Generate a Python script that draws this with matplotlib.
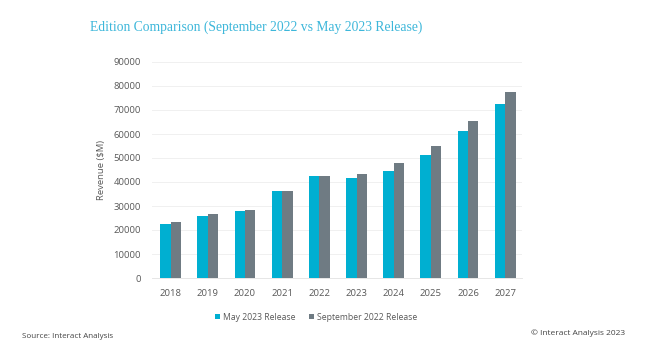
import matplotlib
matplotlib.use("Agg")
from matplotlib import pyplot as plt
import numpy as np

# Revenue ($M) by year, two report editions
years = ['2018', '2019', '2020', '2021', '2022', '2023', '2024', '2025', '2026', '2027']
may_2023 = [22700, 26000, 28000, 36400, 42300, 41800, 44500, 51400, 61100, 72600]
sep_2022 = [23200, 26500, 28500, 36100, 42600, 43500, 47800, 55200, 65400, 77300]
yticks = list(range(0, 90001, 10000))

blue = '#00AFD1'
grey = '#6F7B83'
text_grey = '#595959'

plt.rcParams['font.family'] = ['Open Sans', 'DejaVu Sans']

fig = plt.figure(figsize=(6.45, 3.5), dpi=100)
ax = fig.add_axes([152 / 645, 1 - 278 / 350, 370 / 645, 216 / 350])

x = np.arange(len(years))
w = 0.28
ax.bar(x - w / 2, may_2023, w, color=blue, label='May 2023 Release', zorder=3)
ax.bar(x + w / 2, sep_2022, w, color=grey, label='September 2022 Release', zorder=3)

ax.set_xlim(-0.5, 9.45)
ax.set_ylim(0, 90000)
ax.set_yticks(yticks)
ax.set_yticklabels([str(v) for v in yticks])
ax.set_xticks(x)
ax.set_xticklabels(years)
ax.tick_params(axis='both', length=0, labelsize=6.8, colors=text_grey)
ax.tick_params(axis='y', pad=8)
ax.tick_params(axis='x', pad=8)
ax.grid(axis='y', color='#F0F0F0', linewidth=0.7, zorder=0)
for s in ax.spines.values():
    s.set_visible(False)
ax.spines['bottom'].set_visible(True)
ax.spines['bottom'].set_color('#E6E6E6')
ax.spines['bottom'].set_linewidth(0.7)

ax.set_ylabel('Revenue ($M)', fontsize=6.8, color=text_grey, labelpad=5)

fig.text(256 / 645, 1 - 27 / 350, 'Edition Comparison (September 2022 vs May 2023 Release)',
         ha='center', va='center', fontsize=9.8, color='#3DB7DA',
         family=['Liberation Serif', 'DejaVu Serif'])

leg = ax.legend(loc='center', bbox_to_anchor=(316 / 645, 1 - 317 / 350),
                bbox_transform=fig.transFigure, ncol=2, frameon=False,
                fontsize=6.2, handlelength=0.6, handleheight=0.6,
                handletextpad=0.3, columnspacing=1.6)
for t in leg.get_texts():
    t.set_color(text_grey)

fig.text(22 / 645, 1 - 337 / 350, 'Source: Interact Analysis', fontsize=5.8,
         color='#444444', va='center', ha='left')
fig.text(625 / 645, 1 - 333 / 350, '\u00a9 Interact Analysis 2023', fontsize=6,
         color='#444444', va='center', ha='right')

fig.savefig('out.png', dpi=100)
